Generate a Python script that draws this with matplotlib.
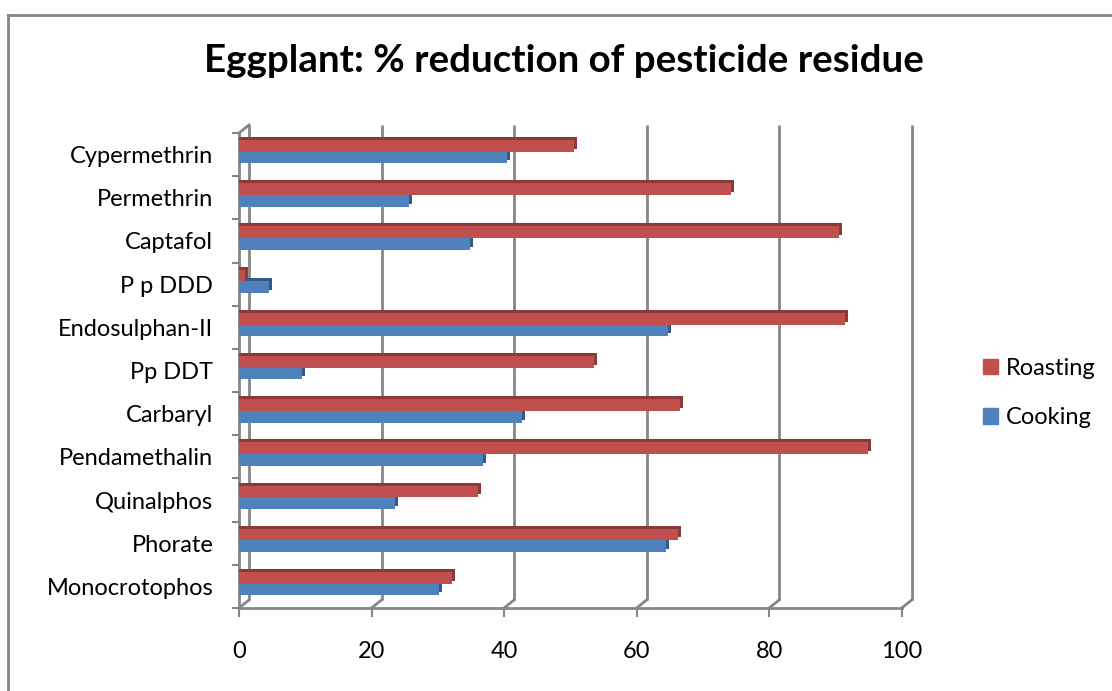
import matplotlib
matplotlib.use("Agg")
import matplotlib.pyplot as plt
import matplotlib.transforms as mtransforms
from matplotlib.lines import Line2D
from matplotlib.patches import Patch
import numpy as np

categories = ["Monocrotophos", "Phorate", "Quinalphos", "Pendamethalin", "Carbaryl",
              "Pp DDT", "Endosulphan-II", "P p DDD", "Captafol", "Permethrin", "Cypermethrin"]
roasting = [32.1, 66.2, 36.1, 94.9, 66.5, 53.6, 91.4, 0.9, 90.5, 74.3, 50.6]
cooking = [30.2, 64.4, 23.5, 36.8, 42.7, 9.5, 64.8, 4.5, 34.8, 25.7, 40.5]
xticks = [0, 20, 40, 60, 80, 100]
title = "Eggplant: % reduction of pesticide residue"

plt.rcParams['font.family'] = ['Lato', 'DejaVu Sans']

W, H = 1112, 691
fig = plt.figure(figsize=(W / 100, H / 100), dpi=100)
ax = fig.add_axes([239 / W, (H - 608) / H, (901.7 - 239) / W, (608 - 133) / H])

grid_c = "#868686"
r_c, r_dark = "#C0504D", "#8C3A38"
c_c, c_dark = "#4F81BD", "#35598A"

ax.set_xlim(0, 100)
ax.set_ylim(-0.5, len(categories) - 0.5)

# back-wall offset (3D look)
back = ax.transData + mtransforms.ScaledTranslation(10 / 100, 8 / 100, fig.dpi_scale_trans)
shade = ax.transData + mtransforms.ScaledTranslation(3 / 100, 3 / 100, fig.dpi_scale_trans)
shade_l = ax.transData + mtransforms.ScaledTranslation(0, 3 / 100, fig.dpi_scale_trans)

y0, y1 = ax.get_ylim()
for v in xticks:
    ax.plot([v, v], [y0, y1], color=grid_c, lw=2, transform=back, zorder=1, clip_on=False,
            solid_capstyle='butt')
    p_front = ax.transData.transform((v, y0))
    p_back = back.transform((v, y0))
    fig.add_artist(Line2D([p_front[0] / W, p_back[0] / W], [p_front[1] / H, p_back[1] / H],
                          color=grid_c, lw=2))
p_front = ax.transData.transform((0, y1))
p_back = back.transform((0, y1))
fig.add_artist(Line2D([p_front[0] / W, p_back[0] / W], [p_front[1] / H, p_back[1] / H],
                      color=grid_c, lw=2))

y = np.arange(len(categories))
h = 0.27
ax.barh(y - 0.07, cooking, height=h, color=c_dark, transform=shade, zorder=2)
ax.barh(y - 0.07, cooking, height=h, color=c_c, zorder=3)
ax.barh(y + 0.2, roasting, height=h, color=r_dark, transform=shade, zorder=4)
ax.barh(y + 0.2, roasting, height=h, color=r_dark, transform=shade_l, zorder=4)
ax.barh(y + 0.2, roasting, height=h, color=r_c, zorder=5)

for s in ["top", "right"]:
    ax.spines[s].set_visible(False)
for s in ["left", "bottom"]:
    ax.spines[s].set_color(grid_c)
    ax.spines[s].set_linewidth(2)

ax.set_xticks(xticks)
ax.set_xticklabels([str(t) for t in xticks])
ax.tick_params(axis='x', direction='out', length=6.5, width=1.5, color=grid_c,
               labelsize=17, pad=17)
ax.set_yticks(np.arange(-0.5, len(categories), 1.0))
ax.set_yticklabels([])
ax.set_yticks(y, minor=True)
ax.set_yticklabels(categories, minor=True)
ax.tick_params(axis='y', which='major', direction='out', length=5, width=1.5, color=grid_c)
ax.tick_params(axis='y', which='minor', length=0, labelsize=17, pad=18.5)

fig.text(564 / W, 1 - 72 / H, title, ha='center', va='baseline',
         fontsize=27.7, fontweight='bold')

fig.add_artist(Line2D([8 / W, 8 / W], [0, 1 - 15 / H], color=grid_c, lw=2))
fig.add_artist(Line2D([8 / W, 1], [1 - 15 / H, 1 - 15 / H], color=grid_c, lw=2))

handles = [Patch(color=r_c, label="Roasting"), Patch(color=c_c, label="Cooking")]
fig.legend(handles=handles, loc='center left', bbox_to_anchor=(978 / W, 1 - 393 / H),
           frameon=False, fontsize=17, handlelength=0.65, handleheight=0.65,
           handletextpad=0.35, labelspacing=1.2, borderaxespad=0, borderpad=0.2)

fig.savefig("out.png", dpi=100)
